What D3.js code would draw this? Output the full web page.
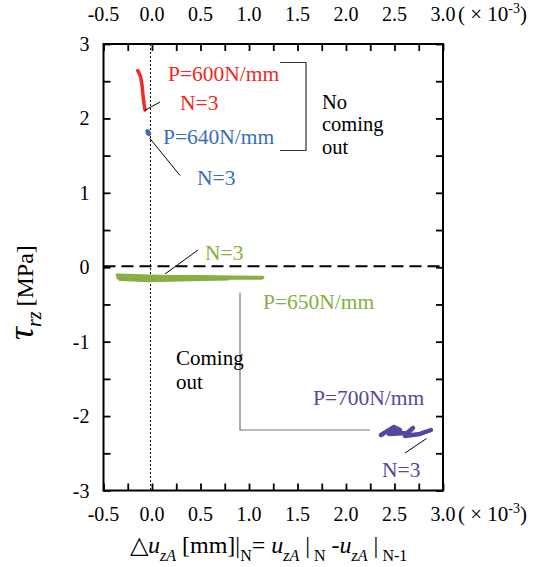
<!DOCTYPE html>
<html><head><meta charset="utf-8">
<script src="https://cdn.jsdelivr.net/npm/d3@7"></script>
<style>body{margin:0;background:#fff}svg{display:block}</style>
</head><body>
<svg id="c" width="551" height="567"></svg>
<script>
// ---- data (x in 1e-3 mm, tau in MPa) ----
const xTicks = [-0.5,-0.25,0,0.25,0.5,0.75,1.0,1.25,1.5,1.75,2.0,2.25,2.5,2.75,3.0];
const xLabels = ["-0.5","0.0","0.5","1.0","1.5","2.0","2.5","3.0"];
const yTicks = [-3,-2.5,-2,-1.5,-1,-0.5,0,0.5,1,1.5,2,2.5,3];
const yLabels = ["-3","-2","-1","0","1","2","3"];
const seriesNames = ["P=600N/mm","P=640N/mm","P=650N/mm","P=700N/mm"];
const red600 = [[-0.147,2.642],[-0.119,2.570],[-0.103,2.450],[-0.093,2.315],[-0.082,2.195],[-0.072,2.114]];
const blue640 = [[-0.046,1.826],[-0.040,1.815],[-0.031,1.792],[-0.042,1.800]];
const green650a = [[-0.361,-0.105],[-0.175,-0.112],[0.134,-0.125],[0.495,-0.125],[0.804,-0.132],[1.144,-0.135]];
const green650b = [[-0.330,-0.165],[-0.021,-0.180],[0.289,-0.172],[0.784,-0.158]];
const green650c = [[-0.351,-0.140],[0.082,-0.158],[0.804,-0.145],[1.134,-0.145]];
const purple700 = [[2.361,-2.254],[2.495,-2.146],[2.557,-2.187],[2.443,-2.240],[2.629,-2.227],[2.691,-2.160],[2.608,-2.268],[2.763,-2.240],[2.876,-2.187]];

const FONT = "Liberation Serif";
const svg = d3.select("#c");
const L=103.5,R=443,T=44,B=490.5;
const x = d3.scaleLinear().domain([-0.5,3.0]).range([L,R]);
const y = d3.scaleLinear().domain([-3,3]).range([B,T]);

// axes (ticks inward)
const tk=7;
svg.append("g").attr("transform",`translate(0,${B})`).call(d3.axisBottom(x).tickValues(xTicks).tickSize(-tk).tickSizeOuter(0).tickFormat(""));
svg.append("g").attr("transform",`translate(0,${T})`).call(d3.axisTop(x).tickValues(xTicks).tickSize(-tk).tickSizeOuter(0).tickFormat(""));
svg.append("g").attr("transform",`translate(${L},0)`).call(d3.axisLeft(y).tickValues(yTicks).tickSize(-tk).tickSizeOuter(0).tickFormat(""));
svg.append("g").attr("transform",`translate(${R},0)`).call(d3.axisRight(y).tickValues(yTicks).tickSize(-tk).tickSizeOuter(0).tickFormat(""));
svg.selectAll(".tick line").attr("stroke","#000").attr("stroke-width",1.8);
svg.selectAll(".tick text").remove();
svg.selectAll(".domain").remove();
svg.append("rect").attr("x",L).attr("y",T).attr("width",R-L).attr("height",B-T).attr("fill","none").attr("stroke","#000").attr("stroke-width",2);

// tick labels
const xl = xLabels.map(Number);
[T-23,B+30].forEach(yy=>{
  svg.append("g").selectAll("text").data(xl).join("text")
    .attr("x",d=>x(d)).attr("y",yy).attr("text-anchor","middle").attr("font-size",20).text((d,i)=>xLabels[i]);
  const t = svg.append("text").attr("x",x(3.0)+15).attr("y",yy).attr("font-size",21);
  t.append("tspan").text("( × 10");
  t.append("tspan").attr("font-size",14).attr("dy",-8).text("-3");
  t.append("tspan").attr("dy",8).text(")");
});
svg.append("g").selectAll("text").data(yLabels).join("text")
  .attr("x",L-14).attr("y",d=>y(+d)+7).attr("text-anchor","end").attr("font-size",20).text(d=>d);

// reference lines
svg.append("line").attr("x1",L).attr("x2",R).attr("y1",y(0)-1).attr("y2",y(0)-1).attr("stroke","#000").attr("stroke-width",2).attr("stroke-dasharray","12,6");
svg.append("line").attr("x1",x(-0.015)).attr("x2",x(-0.015)).attr("y1",T).attr("y2",B).attr("stroke","#000").attr("stroke-width",1).attr("stroke-dasharray","2,2");

// data lines
const line = d3.line().x(d=>x(d[0])).y(d=>y(d[1])).curve(d3.curveLinear);
const draw=(data,col,w)=>svg.append("path").datum(data).attr("d",line).attr("fill","none").attr("stroke",col).attr("stroke-width",w).attr("stroke-linecap","round").attr("stroke-linejoin","round");
const cRed="#ee2a26",cBlue="#3a6fb6",cGreen="#88ae44",cPurple="#5a479c";
draw(red600,cRed,3.5);
draw(blue640,cBlue,4.5);
draw(green650a,cGreen,3);
draw(green650b,cGreen,3);
draw(green650c,cGreen,3.5);
draw(purple700,cPurple,4.5);

// annotations
const txt=(s,px,py,col,fs=21.5)=>svg.append("text").attr("x",px).attr("y",py).attr("fill",col).attr("font-size",fs).text(s);
const seg=(x1,y1,x2,y2,col="#000",w=1)=>svg.append("line").attr("x1",x1).attr("y1",y1).attr("x2",x2).attr("y2",y2).attr("stroke",col).attr("stroke-width",w);
txt(seriesNames[0],168,81,cRed);
txt("N=3",180,110,cRed);
seg(160,102,144.5,110.5);
txt(seriesNames[1],163,144,cBlue);
txt("N=3",197,185,cBlue);
seg(149.5,138,180,175.5);
svg.append("path").attr("d","M280,62.5H306V150.5H280").attr("fill","none").attr("stroke","#333").attr("stroke-width",1.2);
txt("No",322,108.5,"#000",20.5); txt("coming",322,131,"#000",20.5); txt("out",322,154,"#000",20.5);
txt("N=3",205,260,cGreen);
seg(198,250,165,274);
txt(seriesNames[2],263,309,cGreen);
svg.append("path").attr("d","M240,292.5V430H370").attr("fill","none").attr("stroke","#777").attr("stroke-width",1.2);
txt("Coming",176,365,"#000",21); txt("out",176,389,"#000",21);
txt(seriesNames[3],313,405,cPurple);
txt("N=3",382,477,cPurple);
seg(405,453,426.5,438.5);

// axis titles
const xt = svg.append("text").attr("x",130).attr("y",553).attr("font-size",24);
xt.append("tspan").text("△");
xt.append("tspan").attr("font-style","italic").text("u");
xt.append("tspan").attr("font-style","italic").attr("font-size",16).attr("dy",8).text("zA");
xt.append("tspan").attr("dy",-8).text(" [mm]|");
xt.append("tspan").attr("font-size",16).attr("dy",8).text("N");
xt.append("tspan").attr("dy",-8).text("= ");
xt.append("tspan").attr("font-style","italic").text("u");
xt.append("tspan").attr("font-style","italic").attr("font-size",16).attr("dy",8).text("zA");
xt.append("tspan").attr("dy",-8).text(" |");
xt.append("tspan").attr("font-size",16).attr("dy",8).text(" N");
xt.append("tspan").attr("dy",-8).text(" -");
xt.append("tspan").attr("font-style","italic").text("u");
xt.append("tspan").attr("font-style","italic").attr("font-size",16).attr("dy",8).text("zA");
xt.append("tspan").attr("dy",-8).text(" |");
xt.append("tspan").attr("font-size",16).attr("dy",8).text(" N-1");

const yt = svg.append("text").attr("transform","translate(33,340) rotate(-90)").attr("font-size",24);
yt.append("tspan").attr("font-style","italic").attr("font-size",36).text("τ");
yt.append("tspan").attr("font-style","italic").attr("font-size",20).attr("dy",8).text("rz ");
yt.append("tspan").attr("dy",-8).text("[MPa]");

svg.selectAll("text").attr("font-family",FONT);
</script>
</body></html>
